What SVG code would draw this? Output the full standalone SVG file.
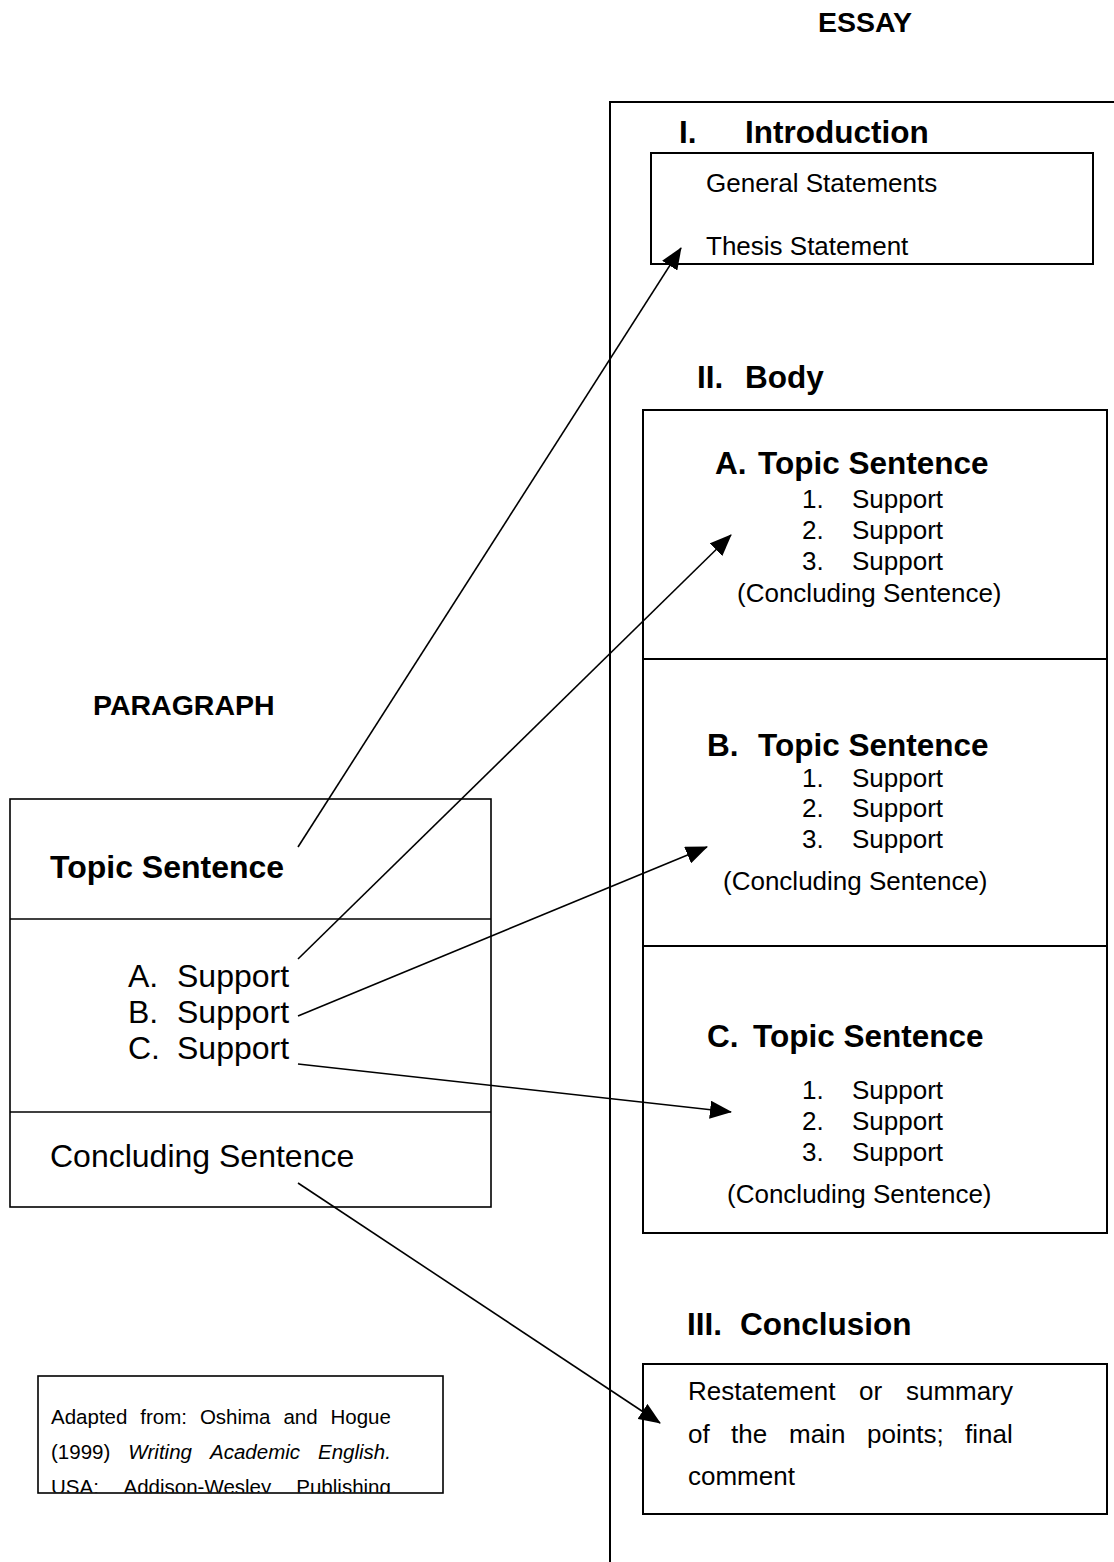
<svg xmlns="http://www.w3.org/2000/svg" width="1114" height="1562" viewBox="0 0 1114 1562">
<style>
text{font-family:"Liberation Sans",Arial,sans-serif;fill:#000}
.h{font-weight:bold;font-size:31.5px}
.hp{font-weight:bold;font-size:32px}
.t{font-weight:bold;font-size:28.5px}
.r{font-size:26px}
.p{font-size:32px}
.c{font-size:20.5px}
.i{font-style:italic}
.box{fill:none;stroke:#000;stroke-width:2}
.thin{fill:none;stroke:#000;stroke-width:1.6}
.ln{fill:none;stroke:#000;stroke-width:1.6}
</style>
<defs>
<marker id="ah" markerUnits="userSpaceOnUse" markerWidth="22" markerHeight="18" viewBox="0 0 22 18" refX="21" refY="9" orient="auto">
<path d="M0,0 L22,9 L0,18 Z" fill="#000"/>
</marker>
<clipPath id="citeclip"><rect x="38" y="1376" width="405" height="116.5"/></clipPath>
</defs>

<g id="essay-title"><text class="t" x="818" y="32">ESSAY</text></g>
<g id="paragraph-title"><text class="t" x="93" y="715">PARAGRAPH</text></g>

<g id="essay-frame">
<path class="box" d="M610,1562 V102 H1114"/>
</g>

<g id="introduction">
<text class="h" x="679" y="143">I.</text>
<text class="h" x="745" y="143">Introduction</text>
<rect class="box" x="651" y="153" width="442" height="111"/>
<text class="r" x="706" y="192">General Statements</text>
<text class="r" x="706" y="255">Thesis Statement</text>
</g>

<g id="body">
<text class="h" x="697" y="388">II.</text>
<text class="h" x="745" y="388">Body</text>
<rect class="box" x="643" y="410" width="464" height="823"/>
<line class="box" x1="643" y1="659" x2="1107" y2="659"/>
<line class="box" x1="643" y1="946" x2="1107" y2="946"/>
</g>

<g id="body-a">
<text class="h" x="715" y="474">A.</text>
<text class="h" x="758" y="474">Topic Sentence</text>
<text class="r" x="802" y="508">1.</text><text class="r" x="852" y="508">Support</text>
<text class="r" x="802" y="539">2.</text><text class="r" x="852" y="539">Support</text>
<text class="r" x="802" y="570">3.</text><text class="r" x="852" y="570">Support</text>
<text class="r" x="737" y="602">(Concluding Sentence)</text>
</g>

<g id="body-b">
<text class="h" x="707" y="756">B.</text>
<text class="h" x="758" y="756">Topic Sentence</text>
<text class="r" x="802" y="787">1.</text><text class="r" x="852" y="787">Support</text>
<text class="r" x="802" y="817">2.</text><text class="r" x="852" y="817">Support</text>
<text class="r" x="802" y="848">3.</text><text class="r" x="852" y="848">Support</text>
<text class="r" x="723" y="890">(Concluding Sentence)</text>
</g>

<g id="body-c">
<text class="h" x="707" y="1047">C.</text>
<text class="h" x="753" y="1047">Topic Sentence</text>
<text class="r" x="802" y="1099">1.</text><text class="r" x="852" y="1099">Support</text>
<text class="r" x="802" y="1130">2.</text><text class="r" x="852" y="1130">Support</text>
<text class="r" x="802" y="1161">3.</text><text class="r" x="852" y="1161">Support</text>
<text class="r" x="727" y="1203">(Concluding Sentence)</text>
</g>

<g id="conclusion">
<text class="h" x="687" y="1335">III.</text>
<text class="h" x="740" y="1335">Conclusion</text>
<rect class="box" x="643" y="1364" width="464" height="150"/>
<text class="r" x="688" y="1400">Restatement</text>
<text class="r" x="859" y="1400">or</text>
<text class="r" x="906" y="1400">summary</text>
<text class="r" x="688" y="1443">of</text>
<text class="r" x="731" y="1443">the</text>
<text class="r" x="789" y="1443">main</text>
<text class="r" x="867" y="1443">points;</text>
<text class="r" x="965" y="1443">final</text>
<text class="r" x="688" y="1485">comment</text>
</g>

<g id="paragraph">
<rect class="thin" x="10" y="799" width="481" height="408"/>
<line class="thin" x1="10" y1="919" x2="491" y2="919"/>
<line class="thin" x1="10" y1="1112" x2="491" y2="1112"/>
<text class="hp" x="50" y="878">Topic Sentence</text>
<text class="p" x="128" y="987">A.</text><text class="p" x="177" y="987">Support</text>
<text class="p" x="128" y="1023">B.</text><text class="p" x="177" y="1023">Support</text>
<text class="p" x="128" y="1059">C.</text><text class="p" x="177" y="1059">Support</text>
<text class="p" x="50" y="1167">Concluding Sentence</text>
</g>

<g id="citation">
<rect class="thin" x="38" y="1376" width="405" height="117"/>
<g clip-path="url(#citeclip)">
<text class="c" x="51" y="1424">Adapted</text>
<text class="c" x="140.3" y="1424">from:</text>
<text class="c" x="199.9" y="1424">Oshima</text>
<text class="c" x="283.4" y="1424">and</text>
<text class="c" x="330.5" y="1424">Hogue</text>
<text class="c" x="51" y="1459">(1999)</text>
<text class="c i" x="128.2" y="1459">Writing</text>
<text class="c i" x="210" y="1459">Academic</text>
<text class="c i" x="318" y="1459">English.</text>
<text class="c" x="51" y="1494">USA:</text>
<text class="c" x="123.5" y="1494">Addison-Wesley</text>
<text class="c" x="296.3" y="1494">Publishing</text>
</g>
</g>

<g id="connectors">
<line class="ln" x1="298" y1="847" x2="681" y2="248" marker-end="url(#ah)"/>
<line class="ln" x1="298" y1="959" x2="731" y2="535" marker-end="url(#ah)"/>
<line class="ln" x1="298" y1="1016" x2="707" y2="847" marker-end="url(#ah)"/>
<line class="ln" x1="298" y1="1064" x2="731" y2="1112" marker-end="url(#ah)"/>
<line class="ln" x1="298" y1="1183" x2="660" y2="1423" marker-end="url(#ah)"/>
</g>
</svg>
